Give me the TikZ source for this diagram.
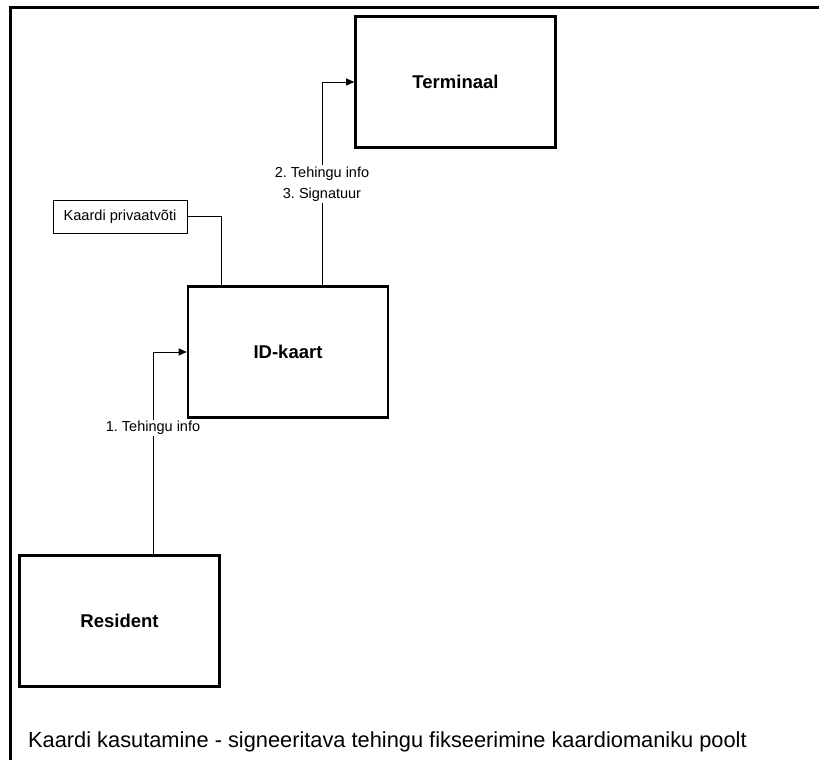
\documentclass[tikz,border=0pt]{standalone}
\usepackage{fontspec}
\setmainfont{Liberation Sans}
\usetikzlibrary{arrows.meta}
\begin{document}
\frenchspacing
\begin{tikzpicture}[x=1pt,y=-1pt,
  bigbox/.style={draw,line width=2.6pt,minimum width=200pt,minimum height=131pt,inner sep=0pt,font=\fontsize{18.5}{22}\selectfont\bfseries},
  keybox/.style={draw,line width=0.9pt,minimum width=134pt,minimum height=33pt,inner sep=0pt,font=\fontsize{14.6}{18}\selectfont},
  conn/.style={line width=0.9pt},
  arr/.style={conn,-{Triangle[length=8pt,width=7pt]}},
  lbl/.style={fill=white,inner sep=1.5pt,align=center,font=\fontsize{14.5}{21}\selectfont}]
\useasboundingbox (0,0) rectangle (819,760);
\fill[white] (0,0) rectangle (819,760);
\draw[line width=3pt] (10,761) -- (10,8) -- (820,8);
\node[bigbox] (term) at (455.5,82) {Terminaal};
\node[bigbox] (id) at (288,352) {ID-kaart};
\node[bigbox] (res) at (119.5,621) {Resident};
\node[keybox] (key) at (120,216.5) {Kaardi privaatvõti};
\draw[arr] ([xshift=33.5pt]res.north) |- (id.west);
\draw[arr] ([xshift=34pt]id.north) |- (term.west);
\draw[conn] (key.east) -| ([xshift=-67pt]id.north);
\node[lbl] (l1) at (153,428) {1. Tehingu info};
\node[lbl] (l2) at (322,184) {2. Tehingu info\\3. Signatuur};
\node[anchor=base west,inner sep=0pt,font=\fontsize{21.8}{26}\selectfont] (cap) at (28,747) {Kaardi kasutamine - signeeritava tehingu fikseerimine kaardiomaniku poolt};
\end{tikzpicture}
\end{document}
